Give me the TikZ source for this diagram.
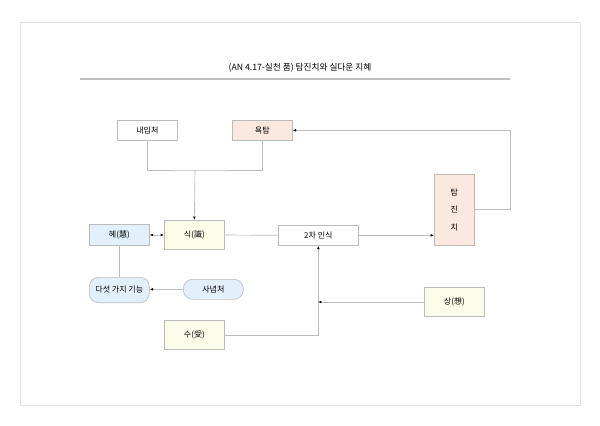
\documentclass[tikz,border=0pt]{standalone}
\usepackage{fontspec}
\setmainfont{Noto Sans CJK KR}
\usetikzlibrary{arrows.meta}
\definecolor{bd}{HTML}{BBBBBB}
\definecolor{pk}{HTML}{FBE9DF}
\definecolor{bl}{HTML}{E2F0FB}
\definecolor{yl}{HTML}{FCFCEA}
\begin{document}
\begin{tikzpicture}[x=0.75pt,y=-0.75pt,
  box/.style={draw=bd,line width=0.5pt,font=\fontsize{6}{7}\selectfont,inner sep=0pt,anchor=north west},
  ln/.style={draw=bd,line width=0.5pt},
  ar/.style={ln,-{Latex[length=2.5pt,width=2pt,color=black]}}]
\useasboundingbox (0,0) rectangle (600,425);
\draw[draw=black!12,line width=0.5pt] (20,22) rectangle (580,405);
\node[font=\fontsize{6.5}{8}\selectfont] (title) at (300,68) {(AN 4.17-실천 품) 탐진치와 실다운 지혜};
\draw[draw=black!25,line width=0.8pt] (80,79) -- (510,79);
\node[box,minimum width=45pt,minimum height=15pt] (nae) at (117,120) {내입처};
\node[box,fill=pk,minimum width=45pt,minimum height=15pt] (yok) at (232,120) {욕탐};
\node[box,fill=pk,minimum width=30pt,minimum height=53pt,align=center] (tam) at (434,174) {탐\\[6pt]진\\[6pt]치};
\node[box,fill=bl,minimum width=45pt,minimum height=16pt] (hye) at (89,224) {혜(慧)};
\node[box,fill=yl,minimum width=45pt,minimum height=22pt] (sik) at (164,220) {식(識)};
\node[box,minimum width=60pt,minimum height=15pt] (cha) at (278,225) {2차 인식};
\node[box,fill=bl,rounded corners=7pt,minimum width=45pt,minimum height=19pt] (five) at (89,277) {다섯 가지 기능};
\node[box,fill=bl,rounded corners=7pt,minimum width=45pt,minimum height=15pt] (sa) at (183,279) {사념처};
\node[box,fill=yl,minimum width=45pt,minimum height=22pt] (sang) at (424,287) {상(想)};
\node[box,fill=yl,minimum width=45pt,minimum height=22pt] (su) at (164,320) {수(受)};
\coordinate (j1) at (195,170);
\coordinate (j2) at (318,302);
\draw[ln] (nae.south) |- (j1) -| (yok.south);
\draw[ar] (j1) -- (sik.north);
\draw[ln,{Latex[length=2.5pt,width=2pt,color=black]}-{Latex[length=2.5pt,width=2pt,color=black]}] (hye.east) -- (sik.west);
\draw[ln] (sik.east) -- (cha.west);
\draw[ar] (cha.east) -- (tam.west|-cha.east);
\draw[ar] (tam.east) -- ++(36,0) |- (yok.east);
\draw[ln] (hye.south) -- (hye.south|-five.north);
\draw[ar] (sa.west) -- (five.east|-sa.west);
\draw[ar] (su.east) -| (cha.south);
\draw[ar] (sang.west) -- (j2);
\end{tikzpicture}
\end{document}
